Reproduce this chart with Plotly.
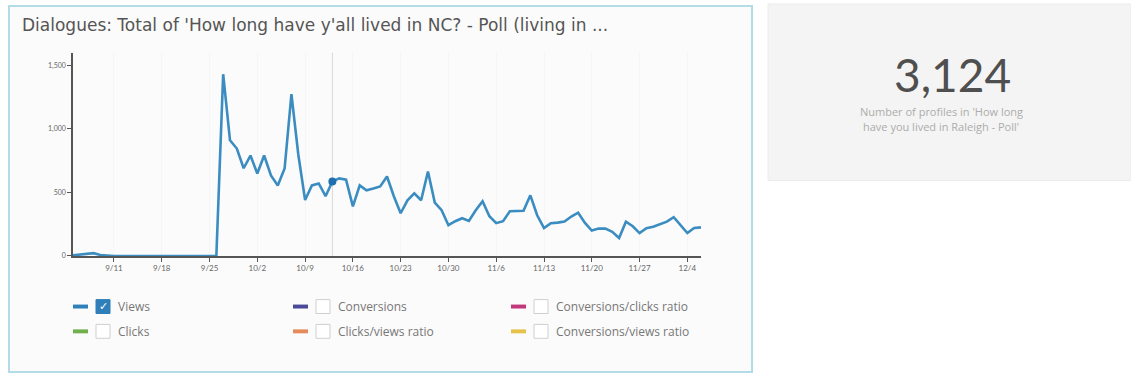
import pandas as pd
import plotly.graph_objects as go

# Daily views, 9/5 through 12/6
start_date = "2016-09-05"
end_date = "2016-12-06"
views = [
    5, 10, 15, 22, 8, 2,
    0, 0, 0, 0, 0, 0, 0, 0, 0, 0, 0, 0, 0, 0, 0, 0,
    1430, 910, 845, 690,
    790, 648, 790, 633, 555, 688, 1273, 800, 440, 555, 570, 470, 586, 610, 600,
    390, 555, 516, 530, 547, 625, 470, 336, 438, 492, 438, 664, 420, 360, 242, 273,
    297, 275, 360, 430, 312, 258, 273, 352, 352, 355, 477, 320, 219, 258, 262,
    270, 310, 340, 260, 200, 215, 215, 190, 141, 270, 234, 180, 219, 230, 250,
    270, 305, 240, 180, 220, 225,
]
dates = pd.date_range(start_date, end_date, freq="D")

tick_dates = pd.date_range("2016-09-11", "2016-12-04", freq="7D")
y_ticks = [0, 500, 1000, 1500]
y_tick_labels = ["0", "500", "1,000", "1,500"]

hover_date = "2016-10-13"
hover_value = views[list(dates).index(pd.Timestamp(hover_date))]

title_text = "Dialogues: Total of 'How long have y'all lived in NC? - Poll (living in ..."
kpi_value = 3124
kpi_caption = ["Number of profiles in 'How long", "have you lived in Raleigh - Poll'"]

legend_items = [
    ("Views", "#2f7fba", True),
    ("Conversions", "#4b4a98", False),
    ("Conversions/clicks ratio", "#c2387a", False),
    ("Clicks", "#72b04e", False),
    ("Clicks/views ratio", "#e58a5a", False),
    ("Conversions/views ratio", "#e5c24a", False),
]

W, H = 1131, 377


def px(x):
    return x / W


def py(y):
    return 1 - y / H


fig = go.Figure()

fig.add_trace(go.Scatter(
    x=dates, y=views, mode="lines",
    line=dict(color="#3a8cc1", width=2.6, shape="linear"),
    hoverinfo="skip", showlegend=False,
))
fig.add_trace(go.Scatter(
    x=[pd.Timestamp(hover_date)], y=[hover_value], mode="markers",
    marker=dict(color="#1f6fae", size=8),
    hoverinfo="skip", showlegend=False,
))

shapes = []
annotations = []

# chart card
shapes.append(dict(type="rect", xref="paper", yref="paper",
                   x0=px(9), x1=px(752), y0=py(375), y1=py(6),
                   fillcolor="#fbfbfb", line=dict(color="#b3dbe8", width=2), layer="below"))
# KPI card
shapes.append(dict(type="rect", xref="paper", yref="paper",
                   x0=px(768), x1=px(1131), y0=py(182), y1=py(4),
                   fillcolor="#f4f4f4", line=dict(color="#ececec", width=1), layer="below"))

# hover guide line
shapes.append(dict(type="line", xref="x", yref="y",
                   x0=hover_date, x1=hover_date, y0=0, y1=1600,
                   line=dict(color="#d8d8d8", width=1), layer="below"))

annotations.append(dict(xref="paper", yref="paper", x=px(20), y=py(25),
                        text=title_text, showarrow=False, xanchor="left", yanchor="middle",
                        font=dict(family="DejaVu Sans", size=17, color="#555555")))

annotations.append(dict(xref="paper", yref="paper", x=px(952), y=py(75),
                        text=f"{kpi_value:,}", showarrow=False, xanchor="center", yanchor="middle",
                        font=dict(family="Lato", size=46, color="#4f4f4f")))
for i, line in enumerate(kpi_caption):
    annotations.append(dict(xref="paper", yref="paper", x=px(941), y=py(112 + 16 * i),
                            text=line, showarrow=False, xanchor="center", yanchor="middle",
                            font=dict(family="Open Sans", size=11, color="#acacac")))

# legend
col_x = [73, 293, 511]
row_y = [309, 334]
for idx, (name, color, checked) in enumerate(legend_items):
    cx = col_x[idx % 3]
    cy = row_y[idx // 3]
    shapes.append(dict(type="rect", xref="paper", yref="paper",
                       x0=px(cx), x1=px(cx + 15), y0=py(cy + 2), y1=py(cy - 2),
                       fillcolor=color, line=dict(width=0)))
    bx = cx + 23
    shapes.append(dict(type="rect", xref="paper", yref="paper",
                       x0=px(bx), x1=px(bx + 14), y0=py(cy + 7), y1=py(cy - 7),
                       fillcolor="#2f7fba" if checked else "#ffffff",
                       line=dict(color="#2f7fba" if checked else "#cfcfcf", width=1)))
    if checked:
        annotations.append(dict(xref="paper", yref="paper", x=px(bx + 7), y=py(cy),
                                text="✓", showarrow=False, xanchor="center", yanchor="middle",
                                font=dict(family="DejaVu Sans", size=11, color="#ffffff")))
    annotations.append(dict(xref="paper", yref="paper", x=px(bx + 20), y=py(cy),
                            text=name, showarrow=False, xanchor="left", yanchor="middle",
                            font=dict(family="Open Sans", size=12, color="#777777")))

fig.update_layout(
    width=W, height=H,
    margin=dict(l=0, r=0, t=0, b=0),
    paper_bgcolor="#ffffff", plot_bgcolor="rgba(0,0,0,0)",
    shapes=shapes, annotations=annotations,
    xaxis=dict(
        domain=[px(73), px(701)],
        range=[dates[0], dates[-1]],
        tickvals=tick_dates, tickformat="%-m/%-d",
        showgrid=True, gridcolor="#f5f5f5", gridwidth=1,
        showline=True, linecolor="#555555", linewidth=1.5,
        ticks="outside", ticklen=4, tickcolor="#555555",
        tickfont=dict(family="Lato", size=8, color="#666666"),
        zeroline=False, fixedrange=True,
    ),
    yaxis=dict(
        domain=[py(258), py(53)],
        range=[0, 1600],
        tickvals=y_ticks, ticktext=y_tick_labels,
        showgrid=False,
        showline=True, linecolor="#555555", linewidth=1.5,
        ticks="outside", ticklen=4, tickcolor="#555555",
        tickfont=dict(family="Lato", size=7, color="#666666"),
        zeroline=False, fixedrange=True,
    ),
)

fig.write_html("out.html")
